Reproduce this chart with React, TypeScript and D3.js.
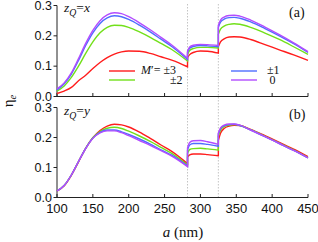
import { useEffect, useRef } from 'react'
import * as d3 from 'd3'

// a (nm) sample positions, split at the two jumps
const X1 = [100, 110, 120, 130, 140, 150, 160, 170, 180, 190, 200, 215, 230, 245, 260, 282]
const X2 = [282, 285, 290, 300, 310, 325]
const X3 = [325, 328, 333, 340, 347, 355, 370, 390, 410, 430, 450]

// panel (a): zQ = x
const topRed = [
  0.01, 0.018, 0.03, 0.052, 0.07, 0.092, 0.112, 0.128, 0.14, 0.147, 0.15, 0.149, 0.142, 0.131, 0.12, 0.098,
  0.128, 0.138, 0.145, 0.15, 0.149, 0.143,
  0.165, 0.18, 0.19, 0.196, 0.197, 0.196, 0.188, 0.171, 0.154, 0.137, 0.119,
]
const topGreen = [
  0.018, 0.035, 0.063, 0.1, 0.142, 0.18, 0.21, 0.228, 0.235, 0.234, 0.228, 0.213, 0.195, 0.175, 0.155, 0.117,
  0.138, 0.152, 0.158, 0.162, 0.162, 0.16,
  0.205, 0.222, 0.232, 0.238, 0.24, 0.238, 0.228, 0.209, 0.188, 0.164, 0.139,
]
const topBlue = [
  0.022, 0.042, 0.074, 0.119, 0.168, 0.21, 0.241, 0.259, 0.266, 0.263, 0.254, 0.235, 0.213, 0.189, 0.165, 0.122,
  0.146, 0.159, 0.165, 0.168, 0.167, 0.164,
  0.228, 0.245, 0.255, 0.26, 0.261, 0.258, 0.246, 0.224, 0.2, 0.174, 0.145,
]
const topPurple = [
  0.025, 0.045, 0.078, 0.125, 0.175, 0.218, 0.25, 0.269, 0.276, 0.273, 0.263, 0.243, 0.22, 0.195, 0.17, 0.126,
  0.15, 0.163, 0.169, 0.172, 0.171, 0.168,
  0.235, 0.252, 0.262, 0.267, 0.268, 0.265, 0.252, 0.229, 0.204, 0.177, 0.148,
]

// panel (b): zQ = y
const botRed = [
  0.021, 0.039, 0.074, 0.119, 0.164, 0.199, 0.223, 0.238, 0.244, 0.242, 0.235, 0.218, 0.197, 0.175, 0.154, 0.113,
  0.135, 0.142, 0.145, 0.145, 0.143, 0.139,
  0.19, 0.214, 0.23, 0.238, 0.241, 0.24, 0.227, 0.206, 0.184, 0.161, 0.136,
]
const botGreen = [
  0.022, 0.04, 0.075, 0.12, 0.164, 0.199, 0.22, 0.231, 0.234, 0.23, 0.221, 0.205, 0.187, 0.167, 0.147, 0.108,
  0.148, 0.16, 0.163, 0.164, 0.162, 0.158,
  0.205, 0.224, 0.236, 0.241, 0.243, 0.24, 0.226, 0.204, 0.181, 0.158, 0.133,
]
const botBlue = [
  0.022, 0.04, 0.075, 0.12, 0.164, 0.198, 0.217, 0.225, 0.225, 0.219, 0.21, 0.195, 0.178, 0.159, 0.141, 0.105,
  0.158, 0.175, 0.18, 0.18, 0.177, 0.171,
  0.212, 0.229, 0.239, 0.243, 0.244, 0.24, 0.225, 0.203, 0.18, 0.157, 0.132,
]
const botPurple = [
  0.022, 0.04, 0.075, 0.12, 0.163, 0.197, 0.215, 0.222, 0.222, 0.216, 0.206, 0.19, 0.174, 0.156, 0.138, 0.103,
  0.165, 0.183, 0.189, 0.19, 0.186, 0.177,
  0.215, 0.232, 0.241, 0.245, 0.245, 0.241, 0.225, 0.203, 0.18, 0.157, 0.132,
]

const COLORS = ['#ff1c1c', '#72e01a', '#4f6dff', '#b24cff']
const JUMPS = [282, 325]
const X_TICKS = [100, 150, 200, 250, 300, 350, 400, 450]
const Y_TICKS = [0, 0.1, 0.2, 0.3]

const SERIF = '"Liberation Serif", "Times New Roman", serif'
const SANS = '"Liberation Sans", Arial, sans-serif'

export default function App() {
  const svgRef = useRef<SVGSVGElement>(null)

  useEffect(() => {
    const svg = d3.select(svgRef.current)
    svg.selectAll('*').remove()

    const x = d3.scaleLinear().domain([100, 450]).range([57, 308])
    const panels = [
      { y: d3.scaleLinear().domain([0, 0.3]).range([96.5, 5.5]), series: [topRed, topGreen, topBlue, topPurple], labels: false },
      { y: d3.scaleLinear().domain([0, 0.3]).range([197.5, 107.5]), series: [botRed, botGreen, botBlue, botPurple], labels: true },
    ]

    // dotted guide lines at the jumps
    JUMPS.forEach(j => {
      svg.append('line')
        .attr('x1', x(j)).attr('x2', x(j))
        .attr('y1', 4).attr('y2', 197.5)
        .attr('stroke', '#c4c4c4')
        .attr('stroke-width', 1)
        .attr('stroke-dasharray', '1.5,1.5')
    })

    const segs = [X1, X2, X3]

    panels.forEach(p => {
      const g = svg.append('g')
      const y0 = p.y(0)

      // x axis
      g.append('line')
        .attr('x1', x(100)).attr('x2', x(450))
        .attr('y1', y0).attr('y2', y0)
        .attr('stroke', '#222').attr('stroke-width', 1)
      X_TICKS.forEach(t => {
        g.append('line')
          .attr('x1', x(t)).attr('x2', x(t))
          .attr('y1', y0).attr('y2', y0 - 3.5)
          .attr('stroke', '#222').attr('stroke-width', 1)
        if (p.labels) {
          g.append('text')
            .attr('x', x(t)).attr('y', y0 + 15)
            .attr('text-anchor', 'middle')
            .attr('font-family', SANS).attr('font-size', 13)
            .attr('fill', '#111')
            .text(String(t))
        }
      })

      // y axis
      g.append('line')
        .attr('x1', x(100)).attr('x2', x(100))
        .attr('y1', p.y(0.3)).attr('y2', y0)
        .attr('stroke', '#222').attr('stroke-width', 1)
      Y_TICKS.forEach(t => {
        g.append('line')
          .attr('x1', x(100) - 3.5).attr('x2', x(100))
          .attr('y1', p.y(t)).attr('y2', p.y(t))
          .attr('stroke', '#222').attr('stroke-width', 1)
        g.append('text')
          .attr('x', x(100) - 5).attr('y', p.y(t) + 4.3)
          .attr('text-anchor', 'end')
          .attr('font-family', SANS).attr('font-size', 12.5)
          .attr('fill', '#111')
          .text(t.toFixed(1))
      })

      // curves
      const line = d3.line<number[]>()
        .x(d => x(d[0]))
        .y(d => p.y(d[1]))
        .curve(d3.curveMonotoneX)

      p.series.forEach((vals, i) => {
        let k = 0
        const path = segs.map((xs, si) => {
          const pts = xs.map(a => [a, vals[k++]])
          const d = line(pts) || ''
          return si === 0 ? d : d.replace(/^M/, 'L')
        }).join('')
        g.append('path')
          .attr('d', path)
          .attr('fill', 'none')
          .attr('stroke', COLORS[i])
          .attr('stroke-width', 1.4)
      })
    })

    const addText = (tx: number, ty: number, size: number, parts: [string, string, number?][]) => {
      const t = svg.append('text')
        .attr('x', tx).attr('y', ty)
        .attr('font-family', SERIF).attr('font-size', size)
        .attr('fill', '#111')
      parts.forEach(([s, style, dy]) => {
        const ts = t.append('tspan').text(s)
        if (style.includes('i')) ts.attr('font-style', 'italic')
        if (style.includes('s')) ts.attr('font-size', size * 0.72)
        if (dy) ts.attr('dy', dy)
      })
      return t
    }

    // panel labels
    addText(289, 17, 14, [['(a)', '']])
    addText(289, 119, 14, [['(b)', '']])
    addText(64, 12, 13.5, [['z', 'i'], ['Q', 'is', 4], ['=', '', -4], ['x', 'i']])
    addText(64, 115, 13.5, [['z', 'i'], ['Q', 'is', 4], ['=', '', -4], ['y', 'i']])

    // legend
    const legend = [
      { c: COLORS[0], x1: 109, y: 71 },
      { c: COLORS[1], x1: 109, y: 80 },
      { c: COLORS[2], x1: 231, y: 71 },
      { c: COLORS[3], x1: 231, y: 80 },
    ]
    legend.forEach(l => {
      svg.append('line')
        .attr('x1', l.x1).attr('x2', l.x1 + 26)
        .attr('y1', l.y).attr('y2', l.y)
        .attr('stroke', l.c).attr('stroke-width', 1.4)
    })
    addText(141, 74, 12, [['M', 'i'], ['\u2032= \u00b13', '']])
    addText(170, 83.5, 12, [['\u00b12', '']])
    addText(267, 74, 12, [['\u00b11', '']])
    addText(269.5, 83.5, 12, [['0', '']])

    // axis titles
    const yl = svg.append('text')
      .attr('transform', 'translate(13,101) rotate(-90)')
      .attr('text-anchor', 'middle')
      .attr('font-family', SERIF).attr('font-size', 15)
      .attr('fill', '#111')
    yl.append('tspan').text('\u03b7')
    yl.append('tspan').text('e').attr('font-size', 10.5).attr('font-style', 'italic').attr('dy', 3)

    const xl = svg.append('text')
      .attr('x', 183).attr('y', 237)
      .attr('text-anchor', 'middle')
      .attr('font-family', SERIF).attr('font-size', 15)
      .attr('fill', '#111')
    xl.append('tspan').text('a').attr('font-style', 'italic')
    xl.append('tspan').text(' (nm)')
  }, [])

  return (
    <svg
      ref={svgRef}
      width={318}
      height={242}
      style={{ position: 'absolute', left: 0, top: 0, background: '#fff' }}
    />
  )
}
